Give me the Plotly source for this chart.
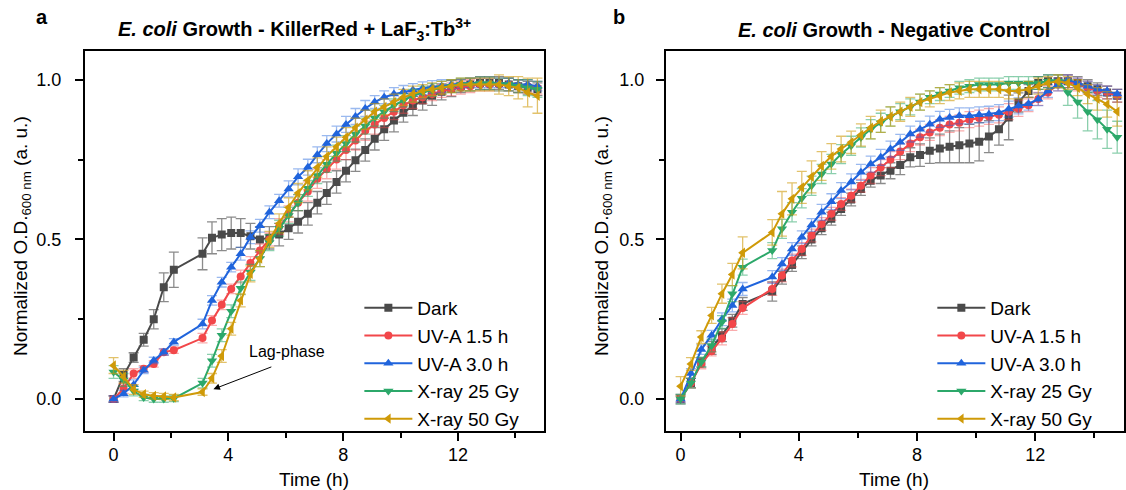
import plotly.graph_objects as go

# ---------------- data ----------------
time_h = [0, 0.35, 0.7, 1.05, 1.4, 1.75, 2.1,
          3.1, 3.43, 3.77, 4.1, 4.43, 4.77, 5.1, 5.43, 5.77, 6.1,
          6.43, 6.77, 7.1, 7.43, 7.77, 8.1, 8.43, 8.77, 9.1, 9.43,
          9.77, 10.1, 10.43, 10.77, 11.1, 11.43, 11.77, 12.1, 12.43, 12.77,
          13.1, 13.43, 13.77, 14.1, 14.43, 14.77]

series_names = ["Dark", "UV-A 1.5 h", "UV-A 3.0 h", "X-ray 25 Gy", "X-ray 50 Gy"]

# Panel a: KillerRed + LaF3:Tb3+
a_dark = [0.0, 0.075, 0.13, 0.186, 0.25, 0.35, 0.405,
          0.455, 0.505, 0.515, 0.52, 0.52, 0.51, 0.50, 0.505, 0.515, 0.535,
          0.555, 0.58, 0.615, 0.645, 0.68, 0.715, 0.748, 0.78, 0.815, 0.845,
          0.872, 0.897, 0.918, 0.935, 0.95, 0.962, 0.972, 0.98, 0.985, 0.99,
          0.99, 0.99, 0.985, 0.98, 0.975, 0.97]
a_red = [0.0, 0.033, 0.08, 0.095, 0.11, 0.147, 0.153,
         0.191, 0.246, 0.295, 0.345, 0.384, 0.426, 0.465, 0.50, 0.54, 0.58,
         0.615, 0.65, 0.69, 0.72, 0.75, 0.78, 0.81, 0.84, 0.86, 0.88,
         0.90, 0.92, 0.935, 0.945, 0.955, 0.965, 0.97, 0.975, 0.98, 0.985,
         0.985, 0.985, 0.985, 0.98, 0.98, 0.975]
a_blue = [0.0, 0.017, 0.045, 0.09, 0.121, 0.147, 0.179,
          0.235, 0.309, 0.366, 0.413, 0.455, 0.507, 0.543, 0.585, 0.621, 0.658,
          0.696, 0.726, 0.765, 0.80, 0.83, 0.86, 0.885, 0.91, 0.93, 0.945,
          0.955, 0.962, 0.968, 0.973, 0.977, 0.98, 0.985, 0.988, 0.99, 0.99,
          0.99, 0.99, 0.99, 0.985, 0.985, 0.98]
a_green = [0.085, 0.06, 0.025, 0.005, 0.0, 0.0, 0.002,
           0.05, 0.12, 0.2, 0.275, 0.347, 0.397, 0.44, 0.49, 0.535, 0.575,
           0.615, 0.66, 0.70, 0.735, 0.77, 0.80, 0.83, 0.855, 0.88, 0.90,
           0.92, 0.935, 0.95, 0.96, 0.968, 0.975, 0.98, 0.985, 0.985, 0.988,
           0.988, 0.985, 0.985, 0.98, 0.975, 0.97]
a_gold = [0.105, 0.07, 0.03, 0.015, 0.01, 0.008, 0.005,
          0.022, 0.065, 0.135, 0.22, 0.309, 0.392, 0.44, 0.50, 0.55, 0.60,
          0.645, 0.685, 0.725, 0.76, 0.79, 0.82, 0.85, 0.875, 0.90, 0.915,
          0.93, 0.945, 0.955, 0.965, 0.97, 0.975, 0.98, 0.985, 0.985, 0.985,
          0.985, 0.985, 0.98, 0.975, 0.96, 0.95]

a_dark_err = [0.01, 0.02, 0.015, 0.02, 0.03, 0.045, 0.055,
              0.05, 0.05, 0.05, 0.05, 0.045, 0.04, 0.04, 0.035, 0.035, 0.035,
              0.035, 0.035, 0.035, 0.035, 0.035, 0.035, 0.035, 0.035, 0.035, 0.035,
              0.035, 0.03, 0.03, 0.03, 0.03, 0.025, 0.025, 0.02, 0.02, 0.02,
              0.02, 0.02, 0.02, 0.02, 0.02, 0.02]
a_red_err = [0.01, 0.015, 0.015, 0.01, 0.01, 0.01, 0.01,
             0.015, 0.015, 0.015, 0.015, 0.02, 0.02, 0.02, 0.02, 0.025, 0.025,
             0.025, 0.03, 0.03, 0.03, 0.03, 0.03, 0.03, 0.03, 0.03, 0.03,
             0.025, 0.025, 0.025, 0.02, 0.02, 0.02, 0.02, 0.02, 0.02, 0.02,
             0.02, 0.02, 0.02, 0.02, 0.02, 0.02]
a_blue_err = [0.01, 0.01, 0.015, 0.01, 0.01, 0.01, 0.01,
              0.015, 0.015, 0.015, 0.015, 0.02, 0.02, 0.02, 0.02, 0.02, 0.025,
              0.025, 0.025, 0.025, 0.025, 0.025, 0.025, 0.025, 0.025, 0.02, 0.02,
              0.02, 0.02, 0.02, 0.02, 0.02, 0.02, 0.015, 0.015, 0.015, 0.015,
              0.015, 0.015, 0.015, 0.015, 0.015, 0.015]
a_green_err = [0.02, 0.02, 0.015, 0.01, 0.01, 0.01, 0.01,
               0.015, 0.02, 0.02, 0.02, 0.02, 0.025, 0.025, 0.025, 0.025, 0.025,
               0.025, 0.025, 0.025, 0.025, 0.025, 0.025, 0.025, 0.025, 0.025, 0.02,
               0.02, 0.02, 0.02, 0.02, 0.02, 0.02, 0.02, 0.02, 0.02, 0.02,
               0.02, 0.02, 0.02, 0.02, 0.025, 0.025]
a_gold_err = [0.025, 0.02, 0.015, 0.01, 0.01, 0.01, 0.01,
              0.01, 0.015, 0.02, 0.02, 0.02, 0.025, 0.025, 0.025, 0.03, 0.03,
              0.03, 0.03, 0.03, 0.03, 0.03, 0.03, 0.03, 0.03, 0.025, 0.025,
              0.025, 0.025, 0.025, 0.02, 0.02, 0.02, 0.02, 0.02, 0.02, 0.02,
              0.02, 0.03, 0.03, 0.035, 0.045, 0.055]

# Panel b: negative control
b_dark = [0.0, 0.05, 0.115, 0.16, 0.2, 0.245, 0.298,
          0.337, 0.38, 0.42, 0.46, 0.50, 0.535, 0.565, 0.595, 0.625, 0.658,
          0.684, 0.70, 0.715, 0.733, 0.757, 0.764, 0.778, 0.785, 0.79, 0.795,
          0.80, 0.806, 0.822, 0.845, 0.882, 0.929, 0.965, 0.99, 0.995, 0.995,
          0.995, 0.99, 0.98, 0.97, 0.96, 0.95]
b_red = [0.0, 0.05, 0.11, 0.15, 0.19, 0.235, 0.285,
         0.345, 0.387, 0.434, 0.47, 0.512, 0.548, 0.58, 0.611, 0.637, 0.668,
         0.70, 0.725, 0.75, 0.775, 0.80, 0.82, 0.835, 0.85, 0.86, 0.865,
         0.875, 0.88, 0.885, 0.89, 0.90, 0.91, 0.92, 0.94, 0.96, 0.985,
         0.995, 0.985, 0.975, 0.965, 0.96, 0.95]
b_blue = [0.0, 0.08, 0.155, 0.2, 0.25, 0.293, 0.345,
          0.382, 0.423, 0.47, 0.507, 0.545, 0.585, 0.618, 0.653, 0.68, 0.71,
          0.736, 0.757, 0.783, 0.804, 0.83, 0.845, 0.861, 0.876, 0.882, 0.887,
          0.887, 0.89, 0.892, 0.897, 0.908, 0.918, 0.925, 0.939, 0.965, 0.985,
          1.0, 0.99, 0.98, 0.97, 0.965, 0.955]
b_green = [0.0, 0.05, 0.116, 0.168, 0.241, 0.33, 0.413,
           0.465, 0.533, 0.585, 0.629, 0.668, 0.705, 0.736, 0.767, 0.793, 0.819,
           0.845, 0.865, 0.885, 0.9, 0.915, 0.93, 0.945, 0.955, 0.965, 0.975,
           0.98, 0.985, 0.985, 0.985, 0.99, 0.99, 0.99, 0.99, 0.995, 0.995,
           0.96, 0.93, 0.90, 0.875, 0.845, 0.82]
b_gold = [0.04, 0.11, 0.194, 0.262, 0.33, 0.39, 0.458,
          0.522, 0.58, 0.627, 0.663, 0.696, 0.73, 0.76, 0.783, 0.804, 0.827,
          0.85, 0.87, 0.885, 0.90, 0.915, 0.93, 0.94, 0.95, 0.96, 0.965,
          0.97, 0.97, 0.97, 0.97, 0.965, 0.965, 0.97, 0.98, 0.99, 0.995,
          0.99, 0.975, 0.955, 0.94, 0.923, 0.90]

b_dark_err = [0.015, 0.015, 0.015, 0.02, 0.02, 0.02, 0.02,
              0.03, 0.02, 0.02, 0.02, 0.02, 0.02, 0.02, 0.02, 0.02, 0.02,
              0.02, 0.025, 0.025, 0.03, 0.03, 0.035, 0.04, 0.045, 0.05, 0.055,
              0.06, 0.06, 0.05, 0.05, 0.07, 0.03, 0.02, 0.02, 0.02, 0.02,
              0.02, 0.02, 0.02, 0.02, 0.02, 0.02]
b_red_err = [0.01, 0.015, 0.015, 0.015, 0.02, 0.02, 0.02,
             0.02, 0.02, 0.02, 0.02, 0.02, 0.02, 0.02, 0.02, 0.02, 0.02,
             0.025, 0.025, 0.025, 0.025, 0.025, 0.025, 0.025, 0.025, 0.025, 0.025,
             0.025, 0.025, 0.025, 0.025, 0.025, 0.025, 0.02, 0.02, 0.02, 0.02,
             0.02, 0.02, 0.02, 0.02, 0.02, 0.02]
b_blue_err = [0.01, 0.015, 0.015, 0.015, 0.02, 0.02, 0.02,
              0.02, 0.02, 0.02, 0.02, 0.02, 0.025, 0.025, 0.025, 0.025, 0.025,
              0.025, 0.025, 0.025, 0.025, 0.025, 0.025, 0.025, 0.025, 0.025, 0.025,
              0.025, 0.025, 0.025, 0.025, 0.025, 0.025, 0.02, 0.02, 0.02, 0.02,
              0.015, 0.015, 0.015, 0.015, 0.015, 0.015]
b_green_err = [0.015, 0.015, 0.015, 0.02, 0.02, 0.025, 0.025,
               0.025, 0.03, 0.03, 0.03, 0.03, 0.03, 0.03, 0.03, 0.03, 0.03,
               0.03, 0.03, 0.03, 0.025, 0.025, 0.025, 0.02, 0.02, 0.02, 0.02,
               0.02, 0.02, 0.02, 0.02, 0.02, 0.02, 0.02, 0.02, 0.02, 0.02,
               0.04, 0.05, 0.06, 0.06, 0.06, 0.05]
b_gold_err = [0.03, 0.02, 0.02, 0.025, 0.03, 0.035, 0.05,
              0.04, 0.07, 0.05, 0.05, 0.05, 0.045, 0.04, 0.04, 0.035, 0.035,
              0.035, 0.035, 0.03, 0.03, 0.03, 0.025, 0.025, 0.025, 0.025, 0.025,
              0.025, 0.025, 0.025, 0.025, 0.025, 0.025, 0.025, 0.025, 0.02, 0.02,
              0.02, 0.025, 0.03, 0.035, 0.04, 0.045]

# ---------------- style ----------------
line_colors = ["#4a4a4a", "#f2474a", "#2064dc", "#2ca86a", "#cf9a08"]
err_colors = ["rgba(100,100,100,0.75)", "rgba(242,71,74,0.45)", "rgba(32,100,220,0.45)",
              "rgba(44,168,106,0.55)", "rgba(207,154,8,0.6)"]
symbols = ["square", "circle", "triangle-up", "triangle-down", "triangle-left"]
msizes = [8, 8, 9, 9, 9]
FONT = "Liberation Sans, Arial, sans-serif"

panel_a = [(a_dark, a_dark_err), (a_red, a_red_err), (a_blue, a_blue_err),
           (a_green, a_green_err), (a_gold, a_gold_err)]
panel_b = [(b_dark, b_dark_err), (b_red, b_red_err), (b_blue, b_blue_err),
           (b_green, b_green_err), (b_gold, b_gold_err)]

fig = go.Figure()
for panel, (xa, ya, lg) in zip([panel_a, panel_b], [("x", "y", "legend"), ("x2", "y2", "legend2")]):
    for i, (vals, errs) in enumerate(panel):
        fig.add_trace(go.Scatter(
            x=time_h, y=vals, name=series_names[i], xaxis=xa, yaxis=ya, legend=lg,
            mode="lines+markers",
            line=dict(color=line_colors[i], width=2),
            marker=dict(symbol=symbols[i], size=msizes[i], color=line_colors[i]),
            error_y=dict(type="data", array=errs, visible=True, color=err_colors[i],
                         thickness=1.3, width=5),
        ))

W, H = 1126, 490
def px_x(p):
    return p / W
def px_y(p):
    return (H - p) / H

axis_common = dict(showline=True, linecolor="black", linewidth=1.8, mirror=True,
                   ticks="outside", ticklen=8, tickwidth=1.8, tickcolor="black",
                   showgrid=False, zeroline=False,
                   tickfont=dict(family=FONT, size=18, color="black"))
minor_x = dict(dtick=2, ticklen=5, tickwidth=1.5, tickcolor="black", ticks="outside")
minor_y = dict(dtick=0.25, ticklen=5, tickwidth=1.5, tickcolor="black", ticks="outside")

fig.update_layout(
    width=W, height=H, margin=dict(l=0, r=0, t=0, b=0),
    paper_bgcolor="white", plot_bgcolor="white",
    font=dict(family=FONT, color="black"),
    xaxis=dict(domain=[px_x(85), px_x(545)], range=[-1, 15], tick0=0, dtick=4,
               minor=minor_x, anchor="y", ticklabelstandoff=-2, **axis_common),
    yaxis=dict(domain=[px_y(431), px_y(51)], range=[-0.1, 1.09], tick0=0, dtick=0.5,
               tickformat=".1f", minor=minor_y, anchor="x", ticklabelstandoff=10,
               **axis_common),
    xaxis2=dict(domain=[px_x(667), 1.0], range=[-0.5, 15], tick0=0, dtick=4,
                minor=minor_x, anchor="y2", ticklabelstandoff=-2, **axis_common),
    yaxis2=dict(domain=[px_y(431), px_y(51)], range=[-0.1, 1.09], tick0=0, dtick=0.5,
                tickformat=".1f", minor=minor_y, anchor="x2", ticklabelstandoff=8,
                **axis_common),
    legend=dict(x=px_x(360), y=px_y(289), xanchor="left", yanchor="top",
                bgcolor="rgba(0,0,0,0)", font=dict(family=FONT, size=19),
                itemwidth=48, tracegroupgap=0),
    legend2=dict(x=px_x(934), y=px_y(289), xanchor="left", yanchor="top",
                 bgcolor="rgba(0,0,0,0)", font=dict(family=FONT, size=19),
                 itemwidth=48, tracegroupgap=0),
    showlegend=True,
)

ann = []
def txt(text, x, y, size, angle=0):
    return dict(text=text, x=x, y=y, xref="paper", yref="paper", showarrow=False,
                xanchor="center", yanchor="middle", textangle=angle,
                font=dict(family=FONT, size=size, color="black"))

# panel letters
ann.append(txt("<b>a</b>", px_x(42), px_y(17), 20))
ann.append(txt("<b>b</b>", px_x(620), px_y(17), 20))
# titles
ann.append(txt("<b><i>E. coli</i> Growth - KillerRed + LaF<sub>3</sub>:Tb<sup>3+</sup></b>",
               px_x(295), px_y(30), 20))
ann.append(txt("<b><i>E. coli</i> Growth - Negative Control</b>", px_x(896), px_y(30), 20))
# axis titles
for cx in [315, 896]:
    ann.append(txt("Time (h)", px_x(cx), px_y(479), 19))
for cx in [22, 604]:
    ann.append(txt("Normalized O.D.<sub>600 nm</sub> (a. u.)", px_x(cx), px_y(236), 19, angle=-90))
# Lag-phase annotation
ann.append(dict(text="Lag-phase", x=6.04, y=0.148, xref="x", yref="y", showarrow=False,
                xanchor="center", yanchor="middle",
                font=dict(family=FONT, size=16, color="black")))
ann.append(dict(text="", x=3.48, y=0.031, ax=5.55, ay=0.1025, xref="x", yref="y",
                axref="x", ayref="y", showarrow=True, arrowhead=2, arrowsize=1.3,
                arrowwidth=1, arrowcolor="black"))
fig.update_layout(annotations=ann)

fig.write_html("out.html")
